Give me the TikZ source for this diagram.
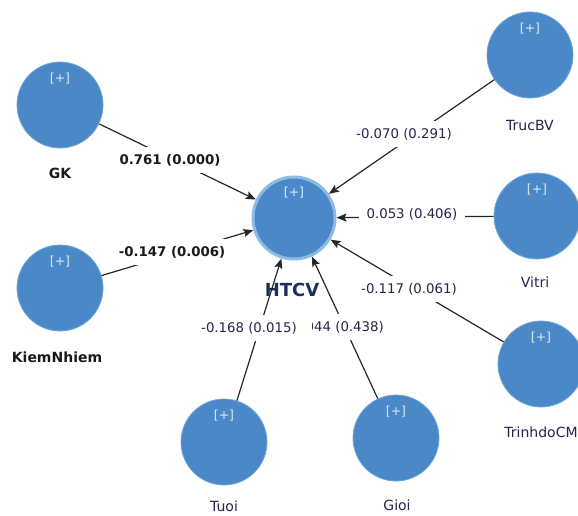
\documentclass[tikz,border=0pt]{standalone}
\usepackage{fontspec}
\setmainfont{DejaVu Sans}
\usetikzlibrary{arrows.meta}
\definecolor{nodeblue}{HTML}{4A88C7}
\definecolor{ringblue}{HTML}{8DBBE6}
\definecolor{edgeblue}{HTML}{72A6DA}
\definecolor{txt}{HTML}{22264A}
\definecolor{htcvtxt}{HTML}{1B2F5E}
\definecolor{plustxt}{HTML}{DCE8F5}
\begin{document}
\begin{tikzpicture}[x=1pt,y=-1pt,
  latent/.style={circle,fill=nodeblue,draw=edgeblue,line width=0.8pt,minimum size=86pt,inner sep=0pt,
    label={[anchor=center,yshift=-17pt,text=plustxt,font=\fontsize{12.5}{12.5}\selectfont]north:{\lbrack+\rbrack}}},
  target/.style={latent,draw=ringblue,line width=3pt,minimum size=82pt},
  conn/.style={draw=black!85,line width=1.2pt,-{Stealth[length=10pt,width=8pt,inset=2pt]}},
  elbl/.style={fill=white,inner xsep=3pt,inner ysep=7pt,text=txt,font=\fontsize{13.3}{14}\selectfont},
  elblb/.style={elbl,text=black!90,font=\fontsize{13.3}{14}\selectfont\bfseries},
  nlbl/.style={inner sep=0pt,text=txt,font=\fontsize{14}{14}\selectfont},
  nlblb/.style={nlbl,text=black!90,font=\fontsize{14}{14}\selectfont\bfseries}
]
\useasboundingbox (0,0) rectangle (578,516);
\clip (0,0) rectangle (578,516);

% latent variables
\node[target] (HTCV) at (294,218) {};
\node[latent] (GK) at (60,105) {};
\node[latent] (KN) at (60,288) {};
\node[latent] (TB) at (530,55) {};
\node[latent] (VT) at (537,216) {};
\node[latent] (TC) at (541,364) {};
\node[latent] (TU) at (224,442) {};
\node[latent] (GI) at (396,438) {};

% names
\node[nlblb] (GKt) at (60,173) {GK};
\node[nlblb] (KNt) at (57,357) {KiemNhiem};
\node[nlbl] (TBt) at (530,125) {TrucBV};
\node[nlbl] (VTt) at (535,282) {Vitri};
\node[nlbl] (TCt) at (541,432) {TrinhdoCM};
\node[nlbl] (TUt) at (224,506) {Tuoi};
\node[nlbl] (GIt) at (397,505) {Gioi};
\node[inner sep=0pt,text=htcvtxt,font=\fontsize{18}{18}\selectfont\bfseries] (HTCVt) at (292,290) {HTCV};

% paths
\draw[conn] (GK) -- (HTCV);
\draw[conn] (KN) -- (HTCV);
\draw[conn] (TB) -- (HTCV);
\draw[conn] (VT) -- (HTCV);
\draw[conn] (TC) -- (HTCV);
\draw[conn] (TU) -- (HTCV);
\draw[conn] (GI) -- (HTCV);

% path coefficients
\node[elblb] (lGK) at (170,160) {0.761 (0.000)};
\node[elblb] (lKN) at (172,252) {-0.147 (0.006)};
\node[elbl] (lTB) at (404,134) {-0.070 (0.291)};
\node[elbl,inner xsep=8pt] (lVT) at (412,214) {0.053 (0.406)};
\node[elbl] (lTC) at (409,289) {-0.117 (0.061)};
\node[elbl,anchor=east] (lGI) at (387,327) {-0.044 (0.438)};
\node[elbl,inner xsep=15pt] (lTU) at (249,328) {-0.168 (0.015)};
\end{tikzpicture}
\end{document}
